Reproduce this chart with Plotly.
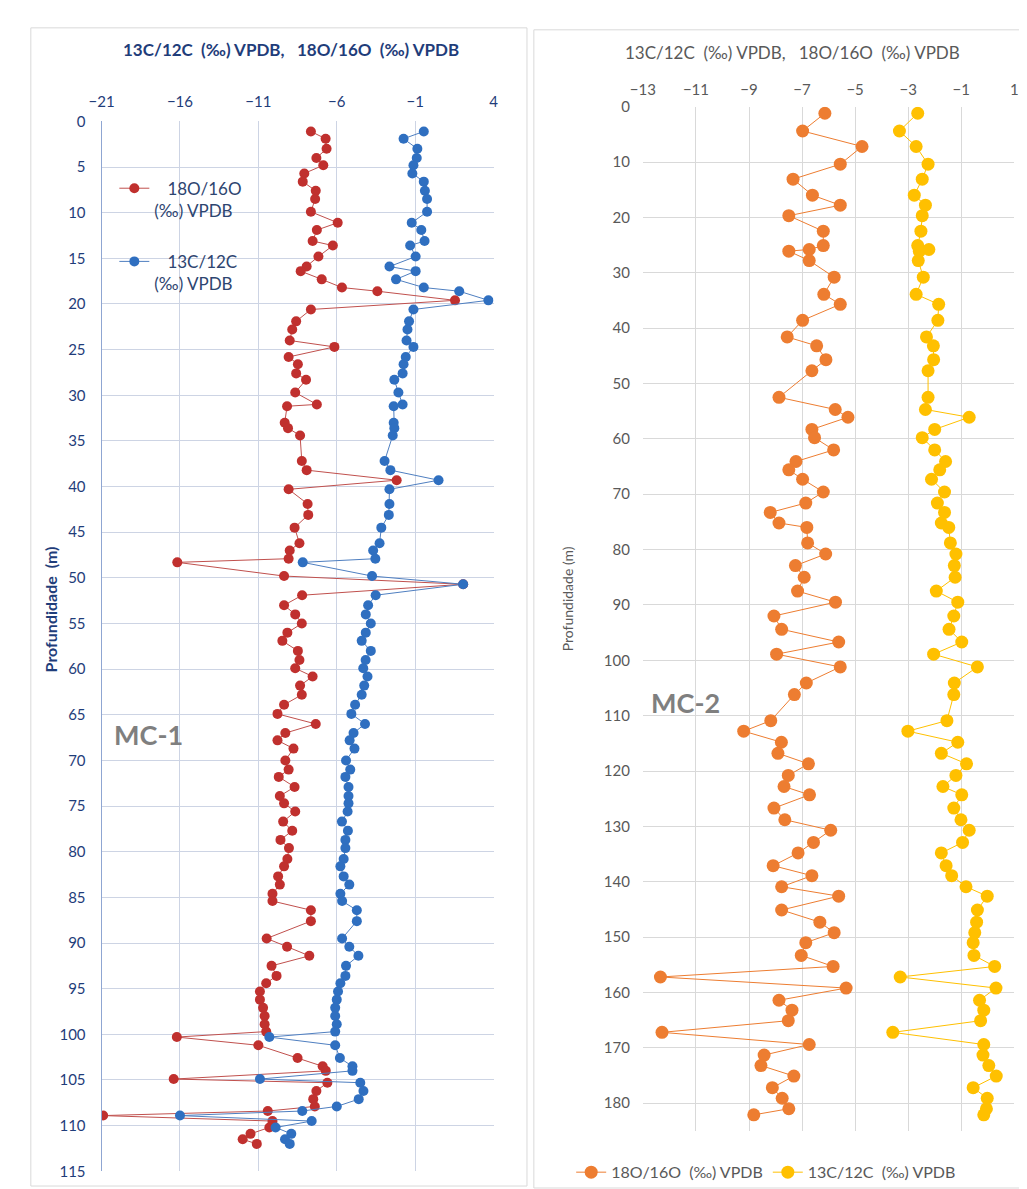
import plotly.graph_objects as go

# ---------------- MC-1 (left panel) ----------------
mc1_depth = [1.1, 1.9, 3.0, 4.0, 4.8, 5.7, 6.6, 7.6, 8.5, 9.9,
             11.1, 11.9, 13.1, 13.6, 14.8, 15.9, 16.4, 17.3, 18.2, 18.6,
             19.6, 20.6, 21.9, 22.8, 24.0, 24.7, 25.8, 26.6, 27.6, 28.3,
             29.7, 31.0, 31.2, 33.0, 33.6, 34.4, 37.2, 38.2, 39.3, 40.3,
             41.9, 43.1, 44.5, 46.2, 47.0, 47.9, 48.3, 49.8, 50.7, 51.9,
             53.0, 54.0, 55.0, 56.0, 56.9, 58.0, 59.0, 59.9, 60.8, 61.8,
             62.8, 63.9, 64.9, 66.0, 67.0, 67.8, 68.7, 70.0, 71.0, 71.8,
             72.9, 73.9, 74.7, 75.6, 76.7, 77.7, 78.7, 79.6, 80.8, 81.6,
             82.7, 83.6, 84.6, 85.4, 86.4, 87.6, 89.5, 90.4, 91.4, 92.5,
             93.6, 94.4, 95.3, 96.2, 97.1, 98.0, 98.9, 99.7, 100.3, 101.2,
             102.6, 103.5, 104.0, 104.9, 105.3, 106.2, 107.1, 107.9, 108.4, 108.9,
             109.5, 110.2, 110.9, 111.5, 112.0]
mc1_d18o = [-7.65, -6.71, -6.65, -7.30, -6.86, -8.07, -8.17, -7.34, -7.38, -7.65,
            -5.94, -7.27, -7.54, -6.25, -7.17, -7.92, -8.30, -6.96, -5.67, -3.41,
            1.54, -7.65, -8.59, -8.84, -9.00, -6.15, -9.07, -8.48, -8.59, -7.96,
            -8.65, -7.27, -9.17, -9.32, -9.11, -8.34, -8.23, -7.92, -2.18, -9.07,
            -7.86, -7.82, -8.69, -8.38, -9.00, -9.07, -16.17, -9.36, 2.06, -8.21,
            -9.36, -8.65, -8.23, -9.15, -9.47, -8.48, -8.38, -8.65, -7.54, -8.34,
            -8.23, -9.36, -9.78, -7.34, -9.28, -9.78, -8.76, -9.28, -9.07, -9.70,
            -8.69, -9.63, -9.36, -8.65, -9.42, -8.84, -9.59, -9.05, -9.15, -9.36,
            -9.74, -9.63, -10.10, -10.10, -7.65, -7.65, -10.47, -9.17, -7.75, -10.16,
            -9.84, -10.50, -10.90, -10.90, -10.70, -10.60, -10.60, -10.50, -16.20, -11.00,
            -8.50, -6.90, -6.70, -16.40, -6.60, -7.30, -7.50, -7.40, -10.40, -20.90,
            -10.10, -10.30, -11.50, -12.00, -11.10]
mc1_d13c = [-0.45, -1.74, -0.86, -0.90, -1.11, -1.18, -0.45, -0.38, -0.24, -0.24,
            -1.22, -0.61, -0.40, -1.32, -0.97, -2.64, -0.97, -2.22, -0.45, 1.81,
            3.67, -1.11, -1.39, -1.49, -1.55, -1.11, -1.60, -1.74, -1.80, -2.33,
            -2.07, -1.80, -2.37, -2.37, -2.33, -2.43, -2.95, -2.58, 0.49, -2.64,
            -2.64, -2.68, -3.16, -3.27, -3.68, -3.54, -8.17, -3.75, 2.06, -3.52,
            -4.00, -4.15, -3.83, -4.15, -4.41, -3.83, -4.16, -4.31, -4.04, -4.25,
            -4.41, -4.83, -5.07, -4.20, -4.93, -5.18, -4.87, -5.41, -5.14, -5.45,
            -5.25, -5.25, -5.25, -5.31, -5.67, -5.29, -5.45, -5.45, -5.56, -5.77,
            -5.56, -5.20, -5.77, -5.66, -4.72, -4.72, -5.66, -5.20, -4.62, -5.41,
            -5.45, -5.77, -5.92, -6.00, -6.10, -6.10, -6.00, -6.10, -10.30, -6.10,
            -5.80, -5.00, -5.00, -10.90, -4.50, -4.30, -4.60, -6.00, -8.20, -16.00,
            -7.60, -9.90, -8.90, -9.30, -9.00]

# ---------------- MC-2 (right panel) ----------------
mc2_depth = [1.2, 4.4, 7.2, 10.4, 13.1, 16.0, 17.8, 19.7, 22.5, 25.1,
             25.8, 26.1, 27.8, 30.8, 33.9, 35.7, 38.6, 41.6, 43.2, 45.7,
             47.7, 52.5, 54.7, 56.1, 58.3, 59.8, 62.0, 64.1, 65.6, 67.3,
             69.6, 71.6, 73.3, 75.2, 76.0, 78.8, 80.8, 82.9, 85.0, 87.5,
             89.5, 92.0, 94.4, 96.7, 98.9, 101.2, 104.1, 106.2, 110.9, 112.8,
             114.8, 116.8, 118.7, 120.8, 122.8, 124.3, 126.7, 128.8, 130.7, 132.9,
             134.8, 137.1, 138.9, 140.9, 142.6, 145.1, 147.3, 149.2, 151.0, 153.3,
             155.3, 157.2, 159.2, 161.4, 163.2, 165.1, 167.2, 169.4, 171.3, 173.2,
             175.1, 177.2, 179.1, 181.0, 182.1]
mc2_d18o = [-6.14, -6.98, -4.74, -5.56, -7.34, -6.61, -5.56, -7.50, -6.20, -6.20,
            -6.73, -7.50, -6.73, -5.79, -6.18, -5.56, -6.98, -7.56, -6.45, -6.10,
            -6.63, -7.87, -5.75, -5.27, -6.63, -6.53, -5.81, -7.23, -7.50, -6.98,
            -6.20, -6.86, -8.20, -7.87, -6.82, -6.79, -6.11, -7.25, -6.92, -7.17,
            -5.74, -8.06, -7.77, -5.62, -7.96, -5.56, -6.84, -7.29, -8.18, -9.20,
            -7.78, -7.91, -6.76, -7.52, -7.68, -6.72, -8.06, -7.65, -5.92, -6.57,
            -7.15, -8.09, -6.63, -7.77, -5.62, -7.77, -6.33, -5.79, -6.86, -7.03,
            -5.83, -12.34, -5.34, -7.87, -7.38, -7.52, -12.28, -6.73, -8.43, -8.55,
            -7.31, -8.12, -7.75, -7.50, -8.82]
mc2_d13c = [-2.64, -3.33, -2.70, -2.25, -2.47, -2.77, -2.35, -2.47, -2.52, -2.64,
            -2.22, -2.58, -2.62, -2.43, -2.70, -1.85, -1.88, -2.31, -2.05, -2.04,
            -2.25, -2.25, -2.35, -0.70, -2.00, -2.47, -2.00, -1.59, -1.81, -2.12,
            -1.63, -1.90, -1.63, -1.75, -1.47, -1.41, -1.20, -1.26, -1.23, -1.94,
            -1.13, -1.28, -1.46, -0.98, -2.04, -0.39, -1.26, -1.28, -1.54, -3.01,
            -1.13, -1.75, -0.80, -1.20, -1.69, -0.98, -1.28, -1.01, -0.70, -0.95,
            -1.75, -1.57, -1.36, -0.82, -0.02, -0.39, -0.42, -0.49, -0.55, -0.52,
            0.26, -3.30, 0.31, -0.31, -0.15, -0.27, -3.58, -0.15, -0.18, 0.04,
            0.32, -0.55, -0.02, -0.05, -0.15]

mc1_xticks = [-21, -16, -11, -6, -1, 4]
mc2_xticks = [-13, -11, -9, -7, -5, -3, -1, 1]

W, H = 1027, 1189
FONT = "Lato"


def px(v):
    return v / W


def py(v):
    return 1 - v / H


NAVY = "#1f3d7a"
GREY = "#595959"

fig = go.Figure()

fig.add_trace(go.Scatter(
    x=mc1_d18o, y=mc1_depth, xaxis="x", yaxis="y", mode="lines+markers",
    name="   18O/16O<br>(‰) VPDB", legend="legend", legendgroup="o1",
    line=dict(color="#c0504d", width=1),
    marker=dict(size=10, color="#c0302e")))
fig.add_trace(go.Scatter(
    x=mc1_d13c, y=mc1_depth, xaxis="x", yaxis="y", mode="lines+markers",
    name="   13C/12C<br>(‰) VPDB", legend="legend", legendgroup="c1",
    line=dict(color="#4f7fc0", width=1),
    marker=dict(size=10, color="#2f6fc0")))
fig.add_trace(go.Scatter(
    x=mc2_d18o, y=mc2_depth, xaxis="x2", yaxis="y2", mode="lines+markers",
    name="18O/16O  (‰) VPDB", legend="legend2",
    line=dict(color="#ed7d31", width=1),
    marker=dict(size=13, color="#ed7d31")))
fig.add_trace(go.Scatter(
    x=mc2_d13c, y=mc2_depth, xaxis="x2", yaxis="y2", mode="lines+markers",
    name="13C/12C  (‰) VPDB", legend="legend2",
    line=dict(color="#ffc000", width=1),
    marker=dict(size=13, color="#ffc000")))

LGRID = "#cdd4e4"
RGRID = "#d9d9d9"

fig.update_layout(
    width=W, height=H,
    margin=dict(l=0, r=0, t=0, b=0),
    paper_bgcolor="white", plot_bgcolor="white",
    font=dict(family=FONT),
    xaxis=dict(domain=[px(82), px(481)], range=[-21, 4], side="top",
               tickvals=mc1_xticks, anchor="y", showgrid=True, gridcolor=LGRID,
               zeroline=False, showline=False, ticks="",
               tickfont=dict(size=15, color=NAVY), ticklabelstandoff=10),
    yaxis=dict(domain=[py(1171), py(105)], range=[115, 0], dtick=5, tick0=0,
               anchor="x", showgrid=True, gridcolor=LGRID, zeroline=False,
               showline=True, linecolor="#8fa6d2", linewidth=1, ticks="",
               tickfont=dict(size=15, color=NAVY), ticklabelstandoff=12),
    xaxis2=dict(domain=[px(633), px(1011)], range=[-13, 1], side="top",
                tickvals=mc2_xticks, anchor="y2", showgrid=True, gridcolor=RGRID,
                zeroline=False, showline=False, ticks="",
                tickfont=dict(size=15, color=GREY), ticklabelstandoff=8),
    yaxis2=dict(domain=[py(1130), py(90)], range=[185, 0], dtick=10, tick0=0,
                anchor="x2", showgrid=True, gridcolor=RGRID, zeroline=False,
                showline=False, ticks="",
                tickfont=dict(size=15, color=GREY), ticklabelstandoff=12),
    legend=dict(x=px(95), y=py(155), xanchor="left", yanchor="top",
                bgcolor="rgba(0,0,0,0)", font=dict(size=17, color="#2e4570"),
                valign="top", tracegroupgap=26, traceorder="grouped"),
    legend2=dict(orientation="h", x=px(560), y=py(1172), xanchor="left",
                 yanchor="middle", bgcolor="rgba(0,0,0,0)",
                 font=dict(size=16, color=GREY)),
    showlegend=True,
)

annotations = [
    dict(text="<b>13C/12C  (‰) VPDB,   18O/16O  (‰) VPDB</b>", x=px(275), y=py(32),
         font=dict(size=17, color=NAVY)),
    dict(text="13C/12C  (‰) VPDB,   18O/16O  (‰) VPDB", x=px(785), y=py(35),
         font=dict(size=17, color=GREY)),
    dict(text="<b>Profundidade  (m)</b>", x=px(30), y=py(600), textangle=-90,
         font=dict(size=16, color=NAVY)),
    dict(text="Profundidade (m)", x=px(556), y=py(590), textangle=-90,
         font=dict(size=14, color=GREY)),
    dict(text="<b>MC-1</b>", x=px(130), y=py(728), font=dict(size=27, color="#7f7f7f")),
    dict(text="<b>MC-2</b>", x=px(676), y=py(695), font=dict(size=27, color="#7f7f7f")),
]
for a in annotations:
    a.update(xref="paper", yref="paper", showarrow=False, xanchor="center", yanchor="middle")
fig.update_layout(annotations=annotations)

shapes = [
    dict(type="rect", xref="paper", yref="paper", x0=px(10), x1=px(515), y0=py(1186), y1=py(10),
         line=dict(color="#d9d9d9", width=1)),
    dict(type="rect", xref="paper", yref="paper", x0=px(522), x1=px(1026), y0=py(1188), y1=py(12),
         line=dict(color="#d9d9d9", width=1)),
]
fig.update_layout(shapes=shapes)

fig.write_html("out.html")
